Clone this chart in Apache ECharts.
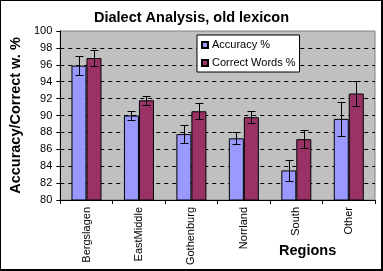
<!DOCTYPE html>
<html>
<head>
<meta charset="utf-8">
<script src="https://cdn.jsdelivr.net/npm/echarts@6/dist/echarts.min.js"></script>
<style>
html,body{margin:0;padding:0;background:#fff;}
#c{position:absolute;left:0;top:0;width:383px;height:271px;}
#frame{position:absolute;left:0;top:0;width:383px;height:271px;box-sizing:border-box;border-left:1px solid #000;border-top:1px solid #000;border-right:2px solid #000;border-bottom:2px solid #000;pointer-events:none;}
</style>
</head>
<body>
<div id="c"></div>
<div id="frame"></div>
<script>
const categories = ['Bergslagen', 'EastMiddle', 'Gothenburg', 'Norrland', 'South', 'Other'];
const accuracy = [95.9, 90.0, 87.8, 87.3, 83.5, 89.6];
const accuracyErr = [1.1, 0.55, 1.05, 0.7, 1.25, 2.0];
const correctWords = [96.8, 91.8, 90.5, 89.8, 87.2, 92.6];
const correctWordsErr = [0.95, 0.5, 0.95, 0.7, 1.1, 1.5];
const yMin = 80, yMax = 100, yStep = 2;
const seriesNames = ['Accuracy %', 'Correct Words %'];
const titleText = 'Dialect Analysis, old lexicon';
const yName = 'Accuracy/Correct w. %';
const xName = 'Regions';

const FONT = "'Liberation Sans', Arial, sans-serif";
const BAR_W = 15;

function errSeries(values, errs, side) {
  return {
    type: 'custom',
    silent: true,
    z: 10,
    data: values.map((v, i) => [i, v, errs[i]]),
    renderItem: function (params, api) {
      const i = api.value(0), v = api.value(1), e = api.value(2);
      const top = api.coord([i, v + e]);
      const bot = api.coord([i, v - e]);
      const x = Math.round(top[0] + side * BAR_W / 2) + 0.5;
      const y1 = Math.round(top[1]) + 0.5, y2 = Math.round(bot[1]) + 0.5;
      const st = { stroke: '#000', lineWidth: 1 };
      return {
        type: 'group',
        children: [
          { type: 'line', shape: { x1: x, y1: y1, x2: x, y2: y2 }, style: st },
          { type: 'line', shape: { x1: x - 4, y1: y1, x2: x + 4, y2: y1 }, style: st },
          { type: 'line', shape: { x1: x - 4, y1: y2, x2: x + 4, y2: y2 }, style: st }
        ]
      };
    }
  };
}

const nLines = Math.round((yMax - yMin) / yStep) + 1;
const splitColors = [];
for (let k = 0; k < nLines; k++) splitColors.push(k === 0 || k === nLines - 1 ? 'rgba(0,0,0,0)' : '#000');

const chart = echarts.init(document.getElementById('c'), null, { renderer: 'canvas' });
chart.setOption({
  animation: false,
  backgroundColor: '#fff',
  textStyle: { fontFamily: FONT },
  title: {
    text: titleText,
    left: 'center',
    top: 10,
    padding: 0,
    textStyle: { fontFamily: FONT, fontWeight: 'bold', fontSize: 14.5, color: '#000', lineHeight: 16 }
  },
  legend: {
    data: seriesNames,
    orient: 'vertical',
    left: 197,
    top: 35,
    backgroundColor: '#fff',
    borderColor: '#000',
    borderWidth: 1,
    padding: [4, 4, 3, 4],
    icon: 'rect',
    itemWidth: 6,
    itemHeight: 6,
    itemGap: 6,
    textStyle: { fontFamily: FONT, fontSize: 11, color: '#000', lineHeight: 12, padding: [0, 0, 0, -1] }
  },
  grid: {
    left: 49, right: 8, top: 31, bottom: 71,
    show: true,
    backgroundColor: '#C0C0C0',
    borderColor: '#808080',
    borderWidth: 1
  },
  xAxis: {
    type: 'category',
    data: categories,
    axisLine: { lineStyle: { color: '#000', width: 1 } },
    axisTick: { show: true, length: 4, interval: 0, lineStyle: { color: '#000' } },
    axisLabel: { rotate: 90, margin: 7, interval: 0, fontSize: 11, color: '#000', fontFamily: FONT },
    splitLine: { show: false }
  },
  yAxis: {
    type: 'value',
    min: yMin, max: yMax, interval: yStep,
    name: yName,
    nameLocation: 'middle',
    nameRotate: 90,
    nameGap: 20,
    nameTextStyle: { fontFamily: FONT, fontWeight: 'bold', fontSize: 14.5, color: '#000' },
    axisLine: { show: true, lineStyle: { color: '#000', width: 1 } },
    axisTick: { show: true, length: 4, lineStyle: { color: '#000' } },
    axisLabel: { margin: 8, fontSize: 11, color: '#000', fontFamily: FONT },
    splitLine: { show: true, lineStyle: { color: splitColors, type: [4, 4], width: 1 } }
  },
  graphic: [{
    type: 'text', left: 279, top: 243,
    style: { text: xName, font: 'bold 14.5px ' + FONT, fill: '#000' }
  }],
  series: [
    {
      name: seriesNames[0], type: 'bar', data: accuracy,
      barWidth: BAR_W, barGap: '0%',
      itemStyle: { color: '#9999FF', borderColor: '#000', borderWidth: 1 }
    },
    {
      name: seriesNames[1], type: 'bar', data: correctWords,
      barWidth: BAR_W, barGap: '0%',
      itemStyle: { color: '#993366', borderColor: '#000', borderWidth: 1 }
    },
    errSeries(accuracy, accuracyErr, -1),
    errSeries(correctWords, correctWordsErr, 1)
  ]
});
</script>
</body>
</html>
